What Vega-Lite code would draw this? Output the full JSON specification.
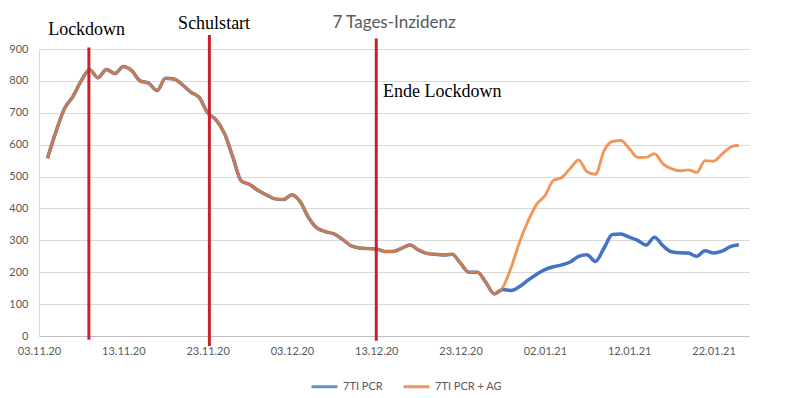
{
  "$schema": "https://vega.github.io/schema/vega-lite/v6.json",
  "autosize": {"type": "none"},
  "width": 710,
  "height": 287,
  "padding": {"left": 39, "top": 49, "right": 37, "bottom": 62},
  "background": "white",
  "title": {
    "text": "7 Tages-Inzidenz",
    "anchor": "middle",
    "frame": "group",
    "font": "Lato",
    "fontSize": 17,
    "fontWeight": "normal",
    "color": "#595959",
    "offset": -17
  },
  "config": {
    "view": {"stroke": null},
    "axis": {"labelFont": "Lato", "labelFontSize": 11, "labelColor": "#595959", "titleFont": "Lato"},
    "legend": {"labelFont": "Lato", "labelFontSize": 11, "labelColor": "#595959"}
  },
  "datasets": {
    "series": [
      {"date": "2020-11-04", "series": "7TI PCR", "value": 557},
      {"date": "2020-11-05", "series": "7TI PCR", "value": 640},
      {"date": "2020-11-06", "series": "7TI PCR", "value": 712},
      {"date": "2020-11-07", "series": "7TI PCR", "value": 750},
      {"date": "2020-11-08", "series": "7TI PCR", "value": 800},
      {"date": "2020-11-09", "series": "7TI PCR", "value": 835},
      {"date": "2020-11-10", "series": "7TI PCR", "value": 810},
      {"date": "2020-11-11", "series": "7TI PCR", "value": 836},
      {"date": "2020-11-12", "series": "7TI PCR", "value": 823},
      {"date": "2020-11-13", "series": "7TI PCR", "value": 845},
      {"date": "2020-11-14", "series": "7TI PCR", "value": 832},
      {"date": "2020-11-15", "series": "7TI PCR", "value": 800},
      {"date": "2020-11-16", "series": "7TI PCR", "value": 793},
      {"date": "2020-11-17", "series": "7TI PCR", "value": 770},
      {"date": "2020-11-18", "series": "7TI PCR", "value": 808},
      {"date": "2020-11-19", "series": "7TI PCR", "value": 806},
      {"date": "2020-11-20", "series": "7TI PCR", "value": 788},
      {"date": "2020-11-21", "series": "7TI PCR", "value": 765},
      {"date": "2020-11-22", "series": "7TI PCR", "value": 748},
      {"date": "2020-11-23", "series": "7TI PCR", "value": 700},
      {"date": "2020-11-24", "series": "7TI PCR", "value": 678},
      {"date": "2020-11-25", "series": "7TI PCR", "value": 635},
      {"date": "2020-11-26", "series": "7TI PCR", "value": 560},
      {"date": "2020-11-27", "series": "7TI PCR", "value": 486},
      {"date": "2020-11-28", "series": "7TI PCR", "value": 475},
      {"date": "2020-11-29", "series": "7TI PCR", "value": 456},
      {"date": "2020-11-30", "series": "7TI PCR", "value": 442},
      {"date": "2020-12-01", "series": "7TI PCR", "value": 430},
      {"date": "2020-12-02", "series": "7TI PCR", "value": 428},
      {"date": "2020-12-03", "series": "7TI PCR", "value": 443},
      {"date": "2020-12-04", "series": "7TI PCR", "value": 420},
      {"date": "2020-12-05", "series": "7TI PCR", "value": 370},
      {"date": "2020-12-06", "series": "7TI PCR", "value": 338},
      {"date": "2020-12-07", "series": "7TI PCR", "value": 327},
      {"date": "2020-12-08", "series": "7TI PCR", "value": 320},
      {"date": "2020-12-09", "series": "7TI PCR", "value": 303},
      {"date": "2020-12-10", "series": "7TI PCR", "value": 283},
      {"date": "2020-12-11", "series": "7TI PCR", "value": 276},
      {"date": "2020-12-12", "series": "7TI PCR", "value": 274},
      {"date": "2020-12-13", "series": "7TI PCR", "value": 273},
      {"date": "2020-12-14", "series": "7TI PCR", "value": 265},
      {"date": "2020-12-15", "series": "7TI PCR", "value": 265},
      {"date": "2020-12-16", "series": "7TI PCR", "value": 275},
      {"date": "2020-12-17", "series": "7TI PCR", "value": 285},
      {"date": "2020-12-18", "series": "7TI PCR", "value": 270},
      {"date": "2020-12-19", "series": "7TI PCR", "value": 259},
      {"date": "2020-12-20", "series": "7TI PCR", "value": 256},
      {"date": "2020-12-21", "series": "7TI PCR", "value": 254},
      {"date": "2020-12-22", "series": "7TI PCR", "value": 256},
      {"date": "2020-12-23", "series": "7TI PCR", "value": 228},
      {"date": "2020-12-24", "series": "7TI PCR", "value": 200},
      {"date": "2020-12-25", "series": "7TI PCR", "value": 200},
      {"date": "2020-12-26", "series": "7TI PCR", "value": 168},
      {"date": "2020-12-27", "series": "7TI PCR", "value": 132},
      {"date": "2020-12-28", "series": "7TI PCR", "value": 146},
      {"date": "2020-12-29", "series": "7TI PCR", "value": 143},
      {"date": "2020-12-30", "series": "7TI PCR", "value": 155},
      {"date": "2020-12-31", "series": "7TI PCR", "value": 175},
      {"date": "2021-01-01", "series": "7TI PCR", "value": 193},
      {"date": "2021-01-02", "series": "7TI PCR", "value": 208},
      {"date": "2021-01-03", "series": "7TI PCR", "value": 217},
      {"date": "2021-01-04", "series": "7TI PCR", "value": 223},
      {"date": "2021-01-05", "series": "7TI PCR", "value": 232},
      {"date": "2021-01-06", "series": "7TI PCR", "value": 250},
      {"date": "2021-01-07", "series": "7TI PCR", "value": 255},
      {"date": "2021-01-08", "series": "7TI PCR", "value": 234},
      {"date": "2021-01-09", "series": "7TI PCR", "value": 275},
      {"date": "2021-01-10", "series": "7TI PCR", "value": 318},
      {"date": "2021-01-11", "series": "7TI PCR", "value": 320},
      {"date": "2021-01-12", "series": "7TI PCR", "value": 310},
      {"date": "2021-01-13", "series": "7TI PCR", "value": 300},
      {"date": "2021-01-14", "series": "7TI PCR", "value": 285},
      {"date": "2021-01-15", "series": "7TI PCR", "value": 310},
      {"date": "2021-01-16", "series": "7TI PCR", "value": 283},
      {"date": "2021-01-17", "series": "7TI PCR", "value": 264},
      {"date": "2021-01-18", "series": "7TI PCR", "value": 261},
      {"date": "2021-01-19", "series": "7TI PCR", "value": 260},
      {"date": "2021-01-20", "series": "7TI PCR", "value": 250},
      {"date": "2021-01-21", "series": "7TI PCR", "value": 267},
      {"date": "2021-01-22", "series": "7TI PCR", "value": 260},
      {"date": "2021-01-23", "series": "7TI PCR", "value": 266},
      {"date": "2021-01-24", "series": "7TI PCR", "value": 280},
      {"date": "2021-01-25", "series": "7TI PCR", "value": 286},
      {"date": "2020-11-04", "series": "7TI PCR + AG", "value": 557},
      {"date": "2020-11-05", "series": "7TI PCR + AG", "value": 640},
      {"date": "2020-11-06", "series": "7TI PCR + AG", "value": 712},
      {"date": "2020-11-07", "series": "7TI PCR + AG", "value": 750},
      {"date": "2020-11-08", "series": "7TI PCR + AG", "value": 800},
      {"date": "2020-11-09", "series": "7TI PCR + AG", "value": 835},
      {"date": "2020-11-10", "series": "7TI PCR + AG", "value": 810},
      {"date": "2020-11-11", "series": "7TI PCR + AG", "value": 836},
      {"date": "2020-11-12", "series": "7TI PCR + AG", "value": 823},
      {"date": "2020-11-13", "series": "7TI PCR + AG", "value": 845},
      {"date": "2020-11-14", "series": "7TI PCR + AG", "value": 832},
      {"date": "2020-11-15", "series": "7TI PCR + AG", "value": 800},
      {"date": "2020-11-16", "series": "7TI PCR + AG", "value": 793},
      {"date": "2020-11-17", "series": "7TI PCR + AG", "value": 770},
      {"date": "2020-11-18", "series": "7TI PCR + AG", "value": 808},
      {"date": "2020-11-19", "series": "7TI PCR + AG", "value": 806},
      {"date": "2020-11-20", "series": "7TI PCR + AG", "value": 788},
      {"date": "2020-11-21", "series": "7TI PCR + AG", "value": 765},
      {"date": "2020-11-22", "series": "7TI PCR + AG", "value": 748},
      {"date": "2020-11-23", "series": "7TI PCR + AG", "value": 700},
      {"date": "2020-11-24", "series": "7TI PCR + AG", "value": 678},
      {"date": "2020-11-25", "series": "7TI PCR + AG", "value": 635},
      {"date": "2020-11-26", "series": "7TI PCR + AG", "value": 560},
      {"date": "2020-11-27", "series": "7TI PCR + AG", "value": 486},
      {"date": "2020-11-28", "series": "7TI PCR + AG", "value": 475},
      {"date": "2020-11-29", "series": "7TI PCR + AG", "value": 456},
      {"date": "2020-11-30", "series": "7TI PCR + AG", "value": 442},
      {"date": "2020-12-01", "series": "7TI PCR + AG", "value": 430},
      {"date": "2020-12-02", "series": "7TI PCR + AG", "value": 428},
      {"date": "2020-12-03", "series": "7TI PCR + AG", "value": 443},
      {"date": "2020-12-04", "series": "7TI PCR + AG", "value": 420},
      {"date": "2020-12-05", "series": "7TI PCR + AG", "value": 370},
      {"date": "2020-12-06", "series": "7TI PCR + AG", "value": 338},
      {"date": "2020-12-07", "series": "7TI PCR + AG", "value": 327},
      {"date": "2020-12-08", "series": "7TI PCR + AG", "value": 320},
      {"date": "2020-12-09", "series": "7TI PCR + AG", "value": 303},
      {"date": "2020-12-10", "series": "7TI PCR + AG", "value": 283},
      {"date": "2020-12-11", "series": "7TI PCR + AG", "value": 276},
      {"date": "2020-12-12", "series": "7TI PCR + AG", "value": 274},
      {"date": "2020-12-13", "series": "7TI PCR + AG", "value": 273},
      {"date": "2020-12-14", "series": "7TI PCR + AG", "value": 265},
      {"date": "2020-12-15", "series": "7TI PCR + AG", "value": 265},
      {"date": "2020-12-16", "series": "7TI PCR + AG", "value": 275},
      {"date": "2020-12-17", "series": "7TI PCR + AG", "value": 285},
      {"date": "2020-12-18", "series": "7TI PCR + AG", "value": 270},
      {"date": "2020-12-19", "series": "7TI PCR + AG", "value": 259},
      {"date": "2020-12-20", "series": "7TI PCR + AG", "value": 256},
      {"date": "2020-12-21", "series": "7TI PCR + AG", "value": 254},
      {"date": "2020-12-22", "series": "7TI PCR + AG", "value": 256},
      {"date": "2020-12-23", "series": "7TI PCR + AG", "value": 228},
      {"date": "2020-12-24", "series": "7TI PCR + AG", "value": 200},
      {"date": "2020-12-25", "series": "7TI PCR + AG", "value": 200},
      {"date": "2020-12-26", "series": "7TI PCR + AG", "value": 168},
      {"date": "2020-12-27", "series": "7TI PCR + AG", "value": 132},
      {"date": "2020-12-28", "series": "7TI PCR + AG", "value": 152},
      {"date": "2020-12-29", "series": "7TI PCR + AG", "value": 215},
      {"date": "2020-12-30", "series": "7TI PCR + AG", "value": 295},
      {"date": "2020-12-31", "series": "7TI PCR + AG", "value": 360},
      {"date": "2021-01-01", "series": "7TI PCR + AG", "value": 412},
      {"date": "2021-01-02", "series": "7TI PCR + AG", "value": 440},
      {"date": "2021-01-03", "series": "7TI PCR + AG", "value": 488},
      {"date": "2021-01-04", "series": "7TI PCR + AG", "value": 497},
      {"date": "2021-01-05", "series": "7TI PCR + AG", "value": 525},
      {"date": "2021-01-06", "series": "7TI PCR + AG", "value": 552},
      {"date": "2021-01-07", "series": "7TI PCR + AG", "value": 515},
      {"date": "2021-01-08", "series": "7TI PCR + AG", "value": 507},
      {"date": "2021-01-09", "series": "7TI PCR + AG", "value": 580},
      {"date": "2021-01-10", "series": "7TI PCR + AG", "value": 610},
      {"date": "2021-01-11", "series": "7TI PCR + AG", "value": 613},
      {"date": "2021-01-12", "series": "7TI PCR + AG", "value": 588},
      {"date": "2021-01-13", "series": "7TI PCR + AG", "value": 560},
      {"date": "2021-01-14", "series": "7TI PCR + AG", "value": 560},
      {"date": "2021-01-15", "series": "7TI PCR + AG", "value": 572},
      {"date": "2021-01-16", "series": "7TI PCR + AG", "value": 540},
      {"date": "2021-01-17", "series": "7TI PCR + AG", "value": 525},
      {"date": "2021-01-18", "series": "7TI PCR + AG", "value": 518},
      {"date": "2021-01-19", "series": "7TI PCR + AG", "value": 521},
      {"date": "2021-01-20", "series": "7TI PCR + AG", "value": 513},
      {"date": "2021-01-21", "series": "7TI PCR + AG", "value": 550},
      {"date": "2021-01-22", "series": "7TI PCR + AG", "value": 548},
      {"date": "2021-01-23", "series": "7TI PCR + AG", "value": 570},
      {"date": "2021-01-24", "series": "7TI PCR + AG", "value": 592},
      {"date": "2021-01-25", "series": "7TI PCR + AG", "value": 598}
    ],
    "events": [
      {"date": "2020-11-08T22:00:00Z", "value": 905, "bottom": -12},
      {"date": "2020-11-23T05:00:00Z", "value": 944, "bottom": -31},
      {"date": "2020-12-13T00:00:00Z", "value": 933, "bottom": -15}
    ],
    "labels": [
      {"date": "2020-11-04T02:00:00Z", "value": 944, "label": "Lockdown"},
      {"date": "2020-11-19T12:00:00Z", "value": 963, "label": "Schulstart"},
      {"date": "2020-12-13T19:00:00Z", "value": 749, "label": "Ende Lockdown"}
    ]
  },
  "encoding": {
    "x": {
      "field": "date",
      "type": "temporal",
      "scale": {
        "type": "utc",
        "domain": [
          {"year": 2020, "month": 11, "date": 3, "utc": true},
          {"year": 2021, "month": 1, "date": 26, "hours": 5, "utc": true}
        ]
      },
      "axis": {
        "title": null,
        "format": "%d.%m.%y",
        "values": [
          {"year": 2020, "month": 11, "date": 3, "utc": true},
          {"year": 2020, "month": 11, "date": 13, "utc": true},
          {"year": 2020, "month": 11, "date": 23, "utc": true},
          {"year": 2020, "month": 12, "date": 3, "utc": true},
          {"year": 2020, "month": 12, "date": 13, "utc": true},
          {"year": 2020, "month": 12, "date": 23, "utc": true},
          {"year": 2021, "month": 1, "date": 2, "utc": true},
          {"year": 2021, "month": 1, "date": 12, "utc": true},
          {"year": 2021, "month": 1, "date": 22, "utc": true}
        ],
        "grid": false,
        "ticks": false,
        "tickSize": 0,
        "labelPadding": 9,
        "domainColor": "#BFBFBF",
        "domainWidth": 1,
        "labelFlush": false,
        "labelOverlap": false
      }
    },
    "y": {
      "field": "value",
      "type": "quantitative",
      "scale": {"domain": [0, 900], "nice": false, "zero": true},
      "axis": {
        "title": null,
        "values": [0, 100, 200, 300, 400, 500, 600, 700, 800, 900],
        "ticks": false,
        "tickSize": 0,
        "labelPadding": 11,
        "gridColor": "#D9D9D9",
        "domainColor": "#D9D9D9",
        "labelFlush": false,
        "labelOverlap": false
      }
    }
  },
  "layer": [
    {
      "data": {"name": "series"},
      "transform": [{"filter": "datum.series == '7TI PCR'"}],
      "mark": {"type": "line", "interpolate": "monotone", "strokeWidth": 3.5},
      "encoding": {
        "color": {
          "field": "series",
          "type": "nominal",
          "scale": {"domain": ["7TI PCR", "7TI PCR + AG"], "range": ["#4472C4", "#ED7D31"]},
          "legend": {
            "title": null,
            "orient": "none",
            "legendX": 271,
            "legendY": 323,
            "direction": "horizontal",
            "symbolType": "stroke",
            "symbolSize": 676,
            "symbolStrokeWidth": 3,
            "labelOffset": 4,
            "columnPadding": 14
          }
        }
      }
    },
    {
      "data": {"name": "series"},
      "transform": [{"filter": "datum.series == '7TI PCR + AG'"}],
      "mark": {"type": "line", "interpolate": "monotone", "strokeWidth": 2.9, "opacity": 0.8},
      "encoding": {
        "color": {"field": "series", "type": "nominal"}
      }
    },
    {
      "data": {"name": "events"},
      "mark": {"type": "rule", "color": "#C8202C", "strokeWidth": 3},
      "encoding": {
        "y2": {"field": "bottom"}
      }
    },
    {
      "data": {"name": "labels"},
      "mark": {"type": "text", "font": "Liberation Serif", "fontSize": 18, "color": "#000000", "align": "left", "baseline": "alphabetic"},
      "encoding": {
        "text": {"field": "label"}
      }
    }
  ]
}
